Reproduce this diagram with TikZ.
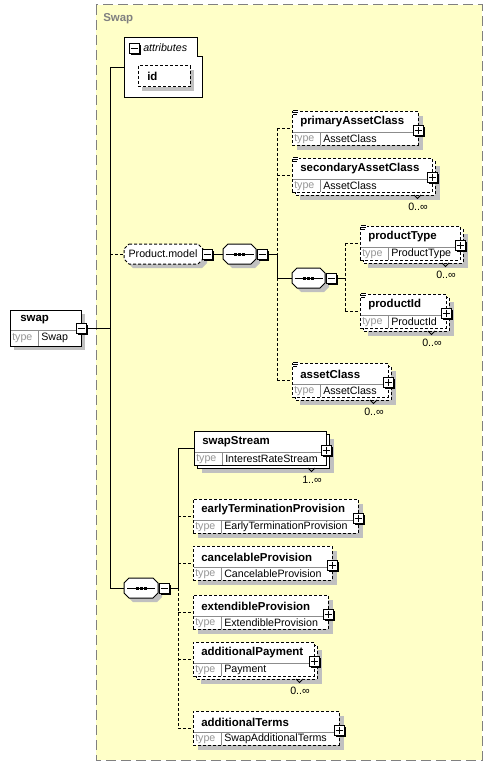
\documentclass[tikz,border=0pt]{standalone}
\usepackage{fontspec}
\setmainfont{Liberation Sans}
\definecolor{bgyellow}{RGB}{255,255,200}
\definecolor{shadowc}{RGB}{192,192,192}
\definecolor{framegray}{RGB}{128,128,128}
\definecolor{typegray}{RGB}{150,150,150}
\definecolor{divgray}{RGB}{140,140,140}
\newcommand\plusnode[3]{% name, cx, cy
  \fill[black] (#2-3.5,#3-3.5) rectangle ++(10,10);
  \node[pmbox] (#1) at (#2,#3) {};
  \draw[line width=0.75pt] (#2-3.5,#3) -- (#2+3.5,#3) (#2,#3-3.5) -- (#2,#3+3.5);
}
\newcommand\minusnode[3]{% name, cx, cy
  \fill[black] (#2-3.5,#3-3.5) rectangle ++(10,10);
  \node[pmbox] (#1) at (#2,#3) {};
  \draw[line width=0.75pt] (#2-3.5,#3) -- (#2+3.5,#3);
}
\newcommand\elem[9]{% name, x, y, w, h, title, type, style, shadow offset
  \fill[shadowc] (#2+#9,#3+#9) rectangle ++(#4,#5);
  \node[elbox,#8,minimum width={#4*0.75pt},minimum height={#5*0.75pt},anchor=north west] (#1) at (#2,#3) {};
  \draw[divc] (#2+0.5,#3+21) -- (#2+#4-0.5,#3+21) (#2+28,#3+21) -- (#2+28,#3+#5-0.5);
  \node[titlef] (#1t) at (#2+8,#3+11) {#6};
  \node[typef] (#1k) at (#2+2,#3+28) {type};
  \node[valf] (#1v) at (#2+31,#3+28) {#7};
  \plusnode{#1p}{#2+#4}{#3+19}
}
\newcommand\back[6]{% x, y, w, h, style, multiplicity
  \fill[shadowc] (#1+8,#2+8) rectangle ++(#3,#4);
  \draw[elbox,#5] (#1+3,#2+3) rectangle ++(#3,#4);
  \draw[line width=0.75pt] (#1+#3-18,#2+#4+3) -- (#1+#3-14.5,#2+#4+6.5) -- (#1+#3-11,#2+#4+3);
  \node[valf,anchor=east] at (#1+#3-4,#2+#4+15) {#6};
}
\newcommand\docicon[2]{% x, y of box top-left
  \fill[white] (#1+0.5,#2-1.5) rectangle ++(6,6.5);
  \draw[line width=0.6pt] (#1+1,#2-0.5) -- ++(5,0) (#1+1,#2+1.5) -- ++(5,0) (#1+1,#2+3.5) -- ++(4,0);
}
\newcommand\octa[5]{% options, x, y, w, h
  \path[#1] (#2+5,#3) -- (#2+#4-5,#3) -- (#2+#4,#3+5) -- (#2+#4,#3+#5-5) -- (#2+#4-5,#3+#5)
    -- (#2+5,#3+#5) -- (#2,#3+#5-5) -- (#2,#3+5) -- cycle;
}
\newcommand\seqsym[2]{% cx, cy
  \draw[line width=0.75pt] (#1-14,#2) -- (#1+14,#2);
  \fill (#1-5.5,#2-1.5) rectangle ++(3,3);
  \fill (#1-1.5,#2-1.5) rectangle ++(3,3);
  \fill (#1+2.5,#2-1.5) rectangle ++(3,3);
}
\newcommand\compo[4]{% name, x, y, w
  \octa{fill=shadowc}{#2+4}{#3+4}{#4}{20}
  \octa{draw=black,fill=white,line width=0.75pt}{#2}{#3}{#4}{20}
  \node[hole,minimum width={#4*0.75pt},minimum height=15pt] (#1) at (#2,#3) {};
  \seqsym{#2+#4/2}{#3+10}
}
\begin{document}
\begin{tikzpicture}[x=0.75pt,y=-0.75pt,
  elbox/.style={draw=black,fill=white,line width=0.75pt,inner sep=0pt,outer sep=0pt},
  dsh/.style={dash pattern=on 2.25pt off 1.5pt},
  conn/.style={line width=0.75pt},
  dconn/.style={line width=0.75pt,dash pattern=on 2.25pt off 1.5pt},
  divc/.style={draw=divgray,line width=0.75pt},
  titlef/.style={font=\fontsize{8.6}{10}\selectfont\bfseries,inner sep=0pt,anchor=west},
  typef/.style={font=\fontsize{8}{10}\selectfont,text=typegray,inner sep=0pt,anchor=west},
  valf/.style={font=\fontsize{8}{10}\selectfont,inner sep=0pt,anchor=west},
  pmbox/.style={draw=black,fill=white,line width=0.75pt,minimum size=7.5pt,inner sep=0pt,outer sep=0pt},
  hole/.style={draw=none,inner sep=0pt,outer sep=0pt,anchor=north west},
]
\useasboundingbox (0,0) rectangle (493,767);
% group frame
\draw[fill=bgyellow,draw=framegray,line width=0.75pt,dash pattern=on 7.5pt off 3.75pt] (96,5) rectangle (482,760);
\node[font=\fontsize{8.6}{10}\selectfont\bfseries,text=framegray,anchor=west,inner sep=0pt] (swaplbl) at (103,18.5) {Swap};

% attributes
\draw[line width=0.75pt,fill=white] (124,38) -- (197,38) -- (197,57) -- (202,57) -- (202,97) -- (124,97) -- cycle;
\node[font=\fontsize{8}{10}\selectfont\itshape,anchor=west,inner sep=0pt] (attrlbl) at (143,48) {attributes};
\minusnode{attrm}{134}{49}
\fill[shadowc] (142,70) rectangle (194,91);
\node[elbox,dsh,minimum width=39pt,minimum height=15.75pt,anchor=north west] (id) at (138,66) {};
\node[titlef] (idt) at (147,76.5) {id};
\coordinate (attrw) at (124,68);

% root element
\fill[shadowc] (14,314) rectangle (85,350);
\node[elbox,minimum width=53.25pt,minimum height=27pt,anchor=north west] (swap) at (10,310) {};
\draw[divc] (10.5,330) -- (80.5,330) (38,330) -- (38,345.5);
\node[titlef] (swapt) at (20,320) {swap};
\node[typef] (swapk) at (12,338) {type};
\node[valf] (swapv) at (41,338) {Swap};
\minusnode{swapm}{81}{328}

% Product.model group
\octa{fill=shadowc}{128}{248}{79}{20}
\octa{draw=black,fill=white,line width=0.75pt,dash pattern=on 2.25pt off 1.5pt}{124}{244}{79}{20}
\node[hole,minimum width=59.25pt,minimum height=15pt] (pm) at (124,244) {};
\node[valf,anchor=center] (pmtext) at (163,254) {Product.model};
\minusnode{pmm}{207}{254}

% sequences
\compo{seq1}{223}{244}{33}
\minusnode{seq1m}{262}{254}
\compo{seq2}{292}{268}{33}
\minusnode{seq2m}{331}{278}
\compo{seq3}{124}{578}{34}
\minusnode{seq3m}{164}{588}

% elements of Product.model
\elem{pac}{292}{111}{126}{34}{primaryAssetClass}{AssetClass}{dsh}{5}
\docicon{292}{111}
\back{292}{158}{140}{34}{dsh}{0..∞}
\elem{sac}{292}{158}{140}{34}{secondaryAssetClass}{AssetClass}{dsh}{0}
\docicon{292}{158}
\back{360}{226}{100}{34}{dsh}{0..∞}
\elem{pt}{360}{226}{100}{34}{productType}{ProductType}{dsh}{0}
\docicon{360}{226}
\back{360}{294}{86}{34}{dsh}{0..∞}
\elem{pid}{360}{294}{86}{34}{productId}{ProductId}{dsh}{0}
\docicon{360}{294}
\back{292}{363}{96}{34}{dsh}{0..∞}
\elem{ac}{292}{363}{96}{34}{assetClass}{AssetClass}{dsh}{0}
\docicon{292}{363}

% elements of the bottom sequence
\back{194}{431}{132}{34}{solid}{1..∞}
\elem{ss}{194}{431}{132}{34}{swapStream}{InterestRateStream}{solid}{0}
\elem{etp}{193}{499}{165}{34}{earlyTerminationProvision}{EarlyTerminationProvision}{dsh}{5}
\elem{cp}{193}{546}{139}{34}{cancelableProvision}{CancelableProvision}{dsh}{5}
\elem{ep}{193}{595}{135}{34}{extendibleProvision}{ExtendibleProvision}{dsh}{5}
\back{193}{642}{121}{34}{dsh}{0..∞}
\elem{ap}{193}{642}{121}{34}{additionalPayment}{Payment}{dsh}{0}
\elem{at}{193}{711}{146}{34}{additionalTerms}{SwapAdditionalTerms}{dsh}{5}

% connector junctions
\coordinate (a0) at (110,68);
\coordinate (a1) at (110,254);
\coordinate (a2) at (110,328);
\coordinate (a3) at (110,588);
\coordinate (b0) at (277,128);
\coordinate (b1) at (277,175);
\coordinate (b2) at (277,254);
\coordinate (b3) at (277,278);
\coordinate (b4) at (277,380);
\coordinate (c0) at (345,243);
\coordinate (c1) at (345,278);
\coordinate (c2) at (345,311);
\coordinate (d0) at (178,448);
\coordinate (d1) at (178,516);
\coordinate (d2) at (178,563);
\coordinate (d3) at (178,588);
\coordinate (d4) at (178,612);
\coordinate (d5) at (178,659);
\coordinate (d6) at (178,728);

% connectors
\draw[conn] (swapm.east) -- (a2);
\draw[conn] (a0) -- (a3);
\draw[conn] (a0) -- (attrw);
\draw[dconn] (a1) -- (pm.west);
\draw[conn] (a3) -- (seq3.west);

\draw[conn] (pmm.east) -- (seq1.west);
\draw[conn] (seq1m.east) -- (b2);
\draw[dconn] (b0) -- (b2);
\draw[conn] (b2) -- (b3);
\draw[dconn] (b3) -- (b4);
\draw[dconn] (b0) -- (pac.west);
\draw[dconn] (b1) -- (sac.west);
\draw[conn] (b3) -- (seq2.west);
\draw[dconn] (b4) -- (ac.west);

\draw[conn] (seq2m.east) -- (c1);
\draw[dconn] (c0) -- (c2);
\draw[dconn] (c0) -- (pt.west);
\draw[dconn] (c2) -- (pid.west);

\draw[conn] (seq3m.east) -- (d3);
\draw[conn] (d0) -- (d3);
\draw[dconn] (d3) -- (d6);
\draw[conn] (d0) -- (ss.west);
\draw[dconn] (d1) -- (etp.west);
\draw[dconn] (d2) -- (cp.west);
\draw[dconn] (d4) -- (ep.west);
\draw[dconn] (d5) -- (ap.west);
\draw[dconn] (d6) -- (at.west);
\end{tikzpicture}
\end{document}
